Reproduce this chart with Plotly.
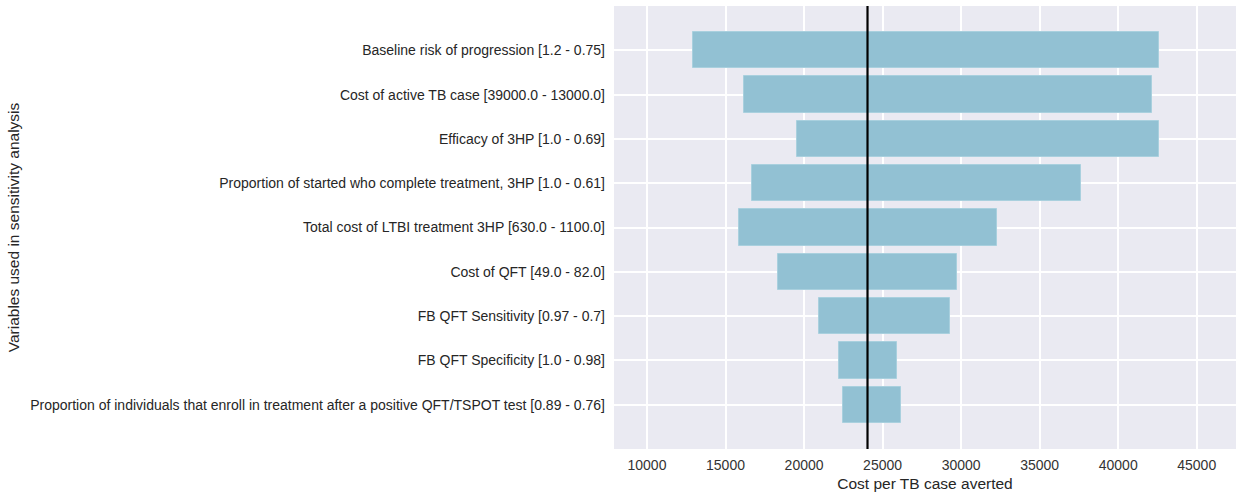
import plotly.graph_objects as go

# One-way sensitivity analysis: cost per TB case averted at the low/high bounds
variables = [
    "Baseline risk of progression [1.2 - 0.75]",
    "Cost of active TB case [39000.0 - 13000.0]",
    "Efficacy of 3HP [1.0 - 0.69]",
    "Proportion of started who complete treatment, 3HP [1.0 - 0.61]",
    "Total cost of LTBI treatment 3HP [630.0 - 1100.0]",
    "Cost of QFT [49.0 - 82.0]",
    "FB QFT Sensitivity [0.97 - 0.7]",
    "FB QFT Specificity [1.0 - 0.98]",
    "Proportion of individuals that enroll in treatment after a positive QFT/TSPOT test [0.89 - 0.76]",
]
low_values = [12930, 16160, 19570, 16690, 15830, 18360, 20980, 22200, 22500]
high_values = [42570, 42120, 42570, 37650, 32270, 29750, 29320, 25930, 26190]
base_value = 24040

x_ticks = [10000, 15000, 20000, 25000, 30000, 35000, 40000, 45000]

positions = list(range(len(variables)))
widths = [h - l for l, h in zip(low_values, high_values)]

fig = go.Figure()
fig.add_trace(go.Bar(
    y=positions,
    x=widths,
    base=low_values,
    orientation="h",
    width=0.82,
    marker=dict(color="#92C1D3", line=dict(color="#A9D0DE", width=1)),
    showlegend=False,
    hoverinfo="skip",
))

fig.add_vline(x=base_value, line=dict(color="black", width=2.2), layer="above")

font_family = "Liberation Sans, Arial, sans-serif"
fig.update_layout(
    width=1238,
    height=500,
    margin=dict(l=614, r=2, t=6, b=51),
    paper_bgcolor="white",
    plot_bgcolor="#EAEAF2",
    font=dict(family=font_family, size=14, color="#262626"),
    bargap=0,
)
fig.update_xaxes(
    range=[7900, 47500],
    tickvals=x_ticks,
    ticktext=[str(v) for v in x_ticks],
    showgrid=True,
    gridcolor="white",
    gridwidth=1.5,
    zeroline=False,
    ticks="",
    ticklabelstandoff=6,
    tickfont=dict(size=14, color="#333333"),
    title=dict(text="Cost per TB case averted", font=dict(size=15.5, color="#262626"), standoff=6),
)
fig.update_yaxes(
    range=[len(variables), -1],
    tickvals=positions,
    ticktext=variables,
    showgrid=True,
    gridcolor="white",
    gridwidth=1.5,
    zeroline=False,
    ticks="",
    ticklabelstandoff=8,
    tickfont=dict(size=14, color="#262626"),
    title=dict(text="Variables used in sensitivity analysis", font=dict(size=15.5, color="#262626"), standoff=6),
)

fig.write_html("out.html")
